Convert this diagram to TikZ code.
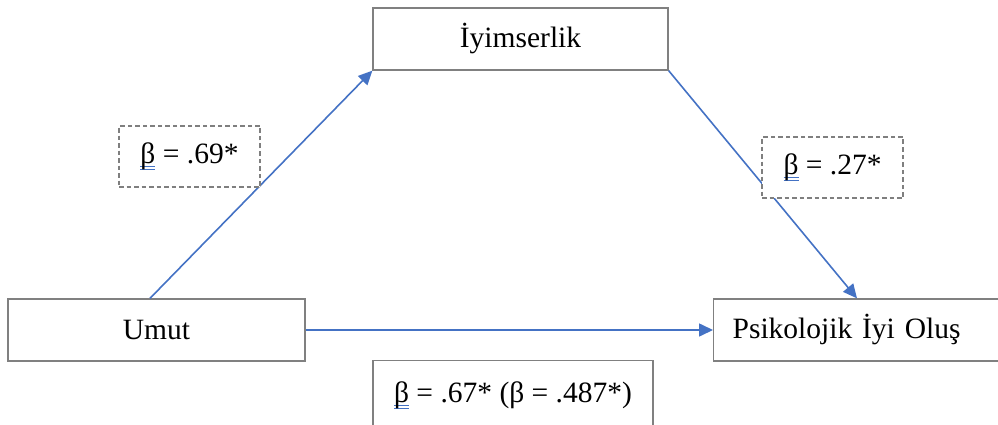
\documentclass[tikz,border=0pt]{standalone}
\usepackage{fontspec}
\setmainfont{Liberation Serif}
\usetikzlibrary{arrows.meta}
\definecolor{pathblue}{HTML}{4472C4}
\definecolor{boxgray}{HTML}{808080}
\definecolor{dashgray}{HTML}{7F7F7F}
% beta with the blue double underline of the original
\newcommand{\markedbeta}{\rlap{\textcolor{pathblue}{\rule[-3.5pt]{15pt}{0.9pt}}}\rlap{\textcolor{pathblue}{\rule[-6.5pt]{15pt}{0.9pt}}}β}

\begin{document}
\begin{tikzpicture}[x=1pt, y=-1pt,
    varbox/.style={draw=boxgray, line width=1.3pt, fill=white, inner sep=0pt,
                   font=\fontsize{29.5}{35}\selectfont},
    coefbox/.style={varbox, draw=dashgray, line width=1.2pt, dash pattern=on 4.5pt off 3pt,
                    minimum width=141pt, minimum height=61pt},
    effect/.style={-{Triangle[length=14pt,width=13pt]}, draw=pathblue, line width=1.6pt}
  ]
    \clip (0,0) rectangle (998,425);

    \node[varbox, minimum width=295pt, minimum height=62pt] (iyim) at (520.5,39) {İyimserlik};
    \node[varbox, minimum width=297pt, minimum height=62pt] (umut) at (156.5,330) {Umut};
    \node[varbox, anchor=west, minimum width=300pt, minimum height=62pt,
          text width=262pt, align=left] (pio) at (713,330) {Psikolojik İyi Oluş};
    \node[varbox, anchor=north, minimum width=280pt, minimum height=80pt,
          text depth=17pt] (b3) at (513,360) {\markedbeta{} = .67* (β = .487*)};

    \draw[effect] ([xshift=-6.5pt]umut.north) -- (iyim.south west);
    \draw[effect] (iyim.south east) -- ([xshift=144pt]pio.north west);
    \draw[effect] (umut.east) -- (pio.west);

    % coefficient labels sit over the paths
    \node[coefbox] (b1) at (189.5,156.5) {\markedbeta{} = .69*};
    \node[coefbox] (b2) at (832.5,167.5) {\markedbeta{} = .27*};
  \end{tikzpicture}
\end{document}
